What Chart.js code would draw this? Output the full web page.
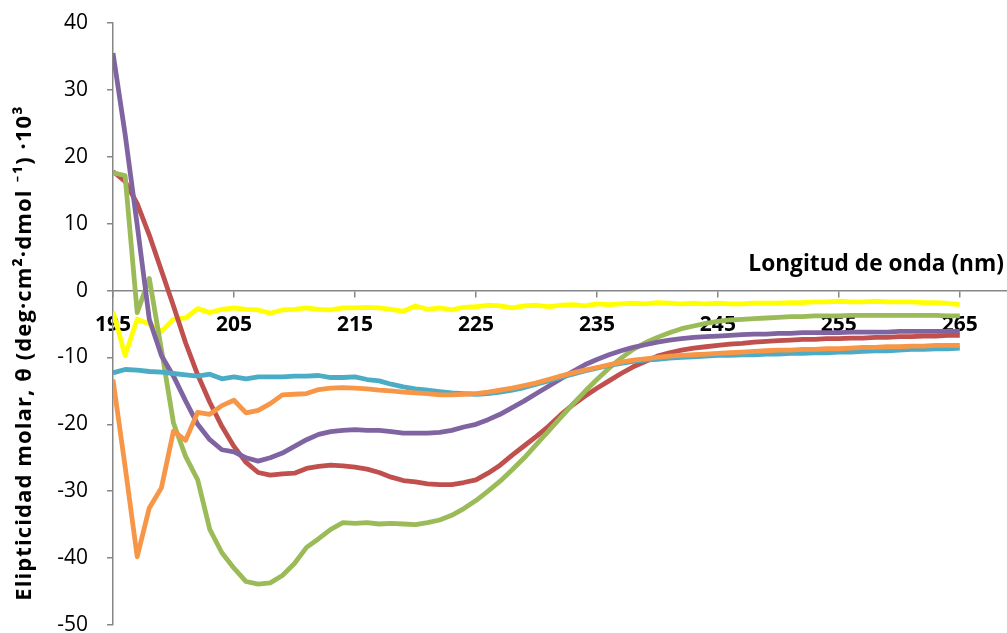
<!DOCTYPE html>
<html>
<head>
<meta charset="utf-8">
<script src="https://cdn.jsdelivr.net/npm/chart.js@4/dist/chart.umd.min.js"></script>
<style>
  html, body { margin: 0; padding: 0; background: #ffffff; }
  #wrap { width: 1007px; height: 633px; position: relative; }
</style>
</head>
<body>
<div id="wrap"><canvas id="cd"></canvas></div>
<script>
// Wavelength (nm)
const wavelength = [
  195,196,197,198,199,200,201,202,203,204,205,206,207,208,209,210,211,212,213,214,
  215,216,217,218,219,220,221,222,223,224,225,226,227,228,229,230,231,232,233,234,
  235,236,237,238,239,240,241,242,243,244,245,246,247,248,249,250,251,252,253,254,
  255,256,257,258,259,260,261,262,263,264,265
];

// Molar ellipticity (x10^3) for each sample
const serieAmarilla = [
  -3.1,-9.7,-4.3,-5.0,-6.1,-4.3,-4.1,-2.7,-3.3,-2.8,-2.6,-2.8,-2.9,-3.4,-2.9,-2.8,-2.6,-2.8,-2.9,-2.6,
  -2.6,-2.5,-2.6,-2.8,-3.1,-2.3,-2.8,-2.6,-2.9,-2.5,-2.4,-2.2,-2.3,-2.6,-2.3,-2.2,-2.4,-2.2,-2.1,-2.3,
  -2.0,-2.1,-2.0,-1.9,-2.0,-1.8,-1.9,-2.0,-1.9,-2.0,-1.9,-2.0,-2.0,-1.9,-1.9,-1.9,-1.8,-1.8,-1.7,-1.7,
  -1.6,-1.7,-1.7,-1.6,-1.7,-1.7,-1.7,-1.8,-1.8,-1.9,-2.1
];
const serieRoja = [
  17.8,16.3,13.0,8.3,3.0,-2.3,-7.8,-12.6,-16.7,-20.3,-23.3,-25.7,-27.2,-27.6,-27.4,-27.3,-26.6,-26.3,-26.1,-26.2,
  -26.4,-26.7,-27.2,-27.9,-28.4,-28.6,-28.9,-29.0,-29.0,-28.7,-28.3,-27.3,-26.1,-24.6,-23.2,-21.8,-20.3,-18.6,-17.1,-15.8,
  -14.6,-13.5,-12.4,-11.4,-10.6,-9.8,-9.3,-8.9,-8.6,-8.4,-8.2,-8.0,-7.9,-7.7,-7.6,-7.5,-7.4,-7.3,-7.3,-7.2,
  -7.2,-7.1,-7.1,-7.0,-7.0,-6.9,-6.9,-6.8,-6.8,-6.7,-6.7
];
const serieVerde = [
  17.6,17.2,-3.3,1.8,-8.8,-19.8,-24.8,-28.3,-35.7,-39.2,-41.5,-43.5,-43.9,-43.7,-42.6,-40.8,-38.4,-37.1,-35.7,-34.7,
  -34.8,-34.7,-34.9,-34.8,-34.9,-35.0,-34.7,-34.3,-33.6,-32.6,-31.4,-30.0,-28.5,-26.8,-25.0,-23.0,-21.0,-19.0,-17.0,-15.1,
  -13.3,-11.6,-10.1,-8.8,-7.8,-7.0,-6.3,-5.7,-5.3,-4.9,-4.6,-4.4,-4.3,-4.2,-4.1,-4.0,-3.9,-3.9,-3.8,-3.8,
  -3.8,-3.7,-3.7,-3.7,-3.7,-3.7,-3.7,-3.7,-3.7,-3.8,-3.8
];
const serieMorada = [
  35.5,23.4,9.8,-4.3,-9.7,-12.8,-16.5,-20.0,-22.3,-23.8,-24.1,-25.0,-25.5,-25.0,-24.3,-23.3,-22.3,-21.5,-21.1,-20.9,
  -20.8,-20.9,-20.9,-21.1,-21.3,-21.3,-21.3,-21.2,-20.9,-20.4,-20.0,-19.3,-18.5,-17.5,-16.5,-15.4,-14.3,-13.2,-12.1,-11.1,
  -10.3,-9.6,-9.0,-8.5,-8.1,-7.7,-7.4,-7.2,-7.0,-6.9,-6.8,-6.7,-6.6,-6.5,-6.5,-6.4,-6.4,-6.3,-6.3,-6.3,
  -6.3,-6.2,-6.2,-6.2,-6.2,-6.1,-6.1,-6.1,-6.1,-6.1,-6.1
];
const serieAzul = [
  -12.3,-11.8,-11.9,-12.1,-12.2,-12.4,-12.6,-12.8,-12.5,-13.2,-12.9,-13.2,-12.9,-12.9,-12.9,-12.8,-12.8,-12.7,-13.0,-13.0,
  -12.9,-13.3,-13.5,-14.0,-14.4,-14.7,-14.9,-15.1,-15.3,-15.4,-15.5,-15.4,-15.2,-14.9,-14.5,-14.0,-13.5,-13.0,-12.5,-12.0,
  -11.6,-11.2,-10.9,-10.6,-10.4,-10.3,-10.1,-10.0,-9.9,-9.8,-9.7,-9.7,-9.6,-9.6,-9.5,-9.5,-9.4,-9.4,-9.3,-9.3,
  -9.2,-9.2,-9.1,-9.0,-9.0,-8.9,-8.8,-8.8,-8.7,-8.7,-8.6
];
const serieNaranja = [
  -13.3,-26.3,-39.8,-32.5,-29.5,-21.0,-22.4,-18.2,-18.5,-17.2,-16.4,-18.3,-17.9,-16.9,-15.6,-15.5,-15.4,-14.8,-14.6,-14.5,
  -14.6,-14.7,-14.9,-15.0,-15.2,-15.3,-15.4,-15.6,-15.6,-15.5,-15.4,-15.2,-14.9,-14.6,-14.2,-13.8,-13.3,-12.8,-12.3,-11.9,
  -11.5,-11.1,-10.7,-10.4,-10.2,-10.0,-9.8,-9.7,-9.6,-9.5,-9.4,-9.3,-9.2,-9.1,-9.0,-8.9,-8.9,-8.8,-8.8,-8.7,
  -8.7,-8.6,-8.5,-8.5,-8.4,-8.4,-8.3,-8.3,-8.2,-8.2,-8.2
];

// Axis ticks
const xTicks = [195, 205, 215, 225, 235, 245, 255, 265];
const yTicks = [-50, -40, -30, -20, -10, 0, 10, 20, 30, 40];

const xTitle = 'Longitud de onda (nm)';
const yTitle = 'Elipticidad molar, θ (deg·cm²·dmol ⁻¹) ·10³';

const FONT = '"Open Sans", Lato, "Liberation Sans", sans-serif';
const AXIS_GREY = '#868686';

function pts(values) {
  return wavelength.map((w, i) => ({ x: w, y: values[i] }));
}

// Drawn bottom-to-top: yellow, red, green, purple, blue, orange
const series = [
  { values: serieNaranja, color: '#F79646' },
  { values: serieAzul, color: '#4BACC6' },
  { values: serieMorada, color: '#8064A2' },
  { values: serieVerde, color: '#9BBB59' },
  { values: serieRoja, color: '#C0504D' },
  { values: serieAmarilla, color: '#FFFF00' }
];

// Axis titles: horizontal one sits above the zero line at the right end,
// vertical one runs along the left edge.
const axisTitles = {
  id: 'axisTitles',
  afterDraw(chart) {
    const ctx = chart.ctx;
    ctx.save();
    ctx.fillStyle = '#000000';
    ctx.font = 'bold 22.7px ' + FONT;
    ctx.textAlign = 'right';
    ctx.textBaseline = 'alphabetic';
    ctx.fillText(xTitle, 1004, 271);

    ctx.translate(31, 353);
    ctx.rotate(-Math.PI / 2);
    ctx.font = 'bold 22px ' + FONT;
    ctx.letterSpacing = '1.1px';
    ctx.textAlign = 'center';
    ctx.fillText(yTitle, 0, 0);
    ctx.restore();
  }
};

new Chart(document.getElementById('cd'), {
  type: 'line',
  data: {
    datasets: series.map(s => ({
      data: pts(s.values),
      borderColor: s.color,
      backgroundColor: s.color,
      borderWidth: 4.8,
      pointRadius: 0,
      tension: 0,
      fill: false,
      borderJoinStyle: 'round',
      borderCapStyle: 'butt'
    }))
  },
  options: {
    responsive: true,
    maintainAspectRatio: false,
    animation: false,
    layout: { padding: { top: 23, bottom: 8, left: 0, right: 0 } },
    plugins: { legend: { display: false }, tooltip: { enabled: false }, title: { display: false } },
    scales: {
      x: {
        type: 'linear',
        position: { y: 0 },
        min: 195,
        max: 268.9,
        afterFit(scale) {
          scale.height = 0;
          scale.paddingLeft = 0;
          scale.paddingRight = 0;
        },
        afterBuildTicks(scale) { scale.ticks = xTicks.map(v => ({ value: v })); },
        ticks: {
          includeBounds: false,
          autoSkip: false,
          maxRotation: 0,
          padding: 16,
          color: '#000000',
          font: { family: FONT, size: 21, weight: 'bold' }
        },
        grid: { display: true, drawOnChartArea: false, drawTicks: true, tickLength: 6, color: AXIS_GREY, lineWidth: 1.5 },
        border: { display: true, color: AXIS_GREY, width: 1.5 }
      },
      y: {
        type: 'linear',
        min: -50,
        max: 40,
        afterFit(scale) {
          scale.width = 113;
          scale.paddingTop = 0;
          scale.paddingBottom = 0;
        },
        afterBuildTicks(scale) { scale.ticks = yTicks.map(v => ({ value: v })); },
        ticks: {
          padding: 19,
          color: '#000000',
          font: { family: FONT, size: 21 }
        },
        grid: { display: true, drawOnChartArea: false, drawTicks: true, tickLength: 6, color: AXIS_GREY, lineWidth: 1.5 },
        border: { display: true, color: AXIS_GREY, width: 1.5 }
      }
    }
  },
  plugins: [axisTitles]
});
</script>
</body>
</html>
